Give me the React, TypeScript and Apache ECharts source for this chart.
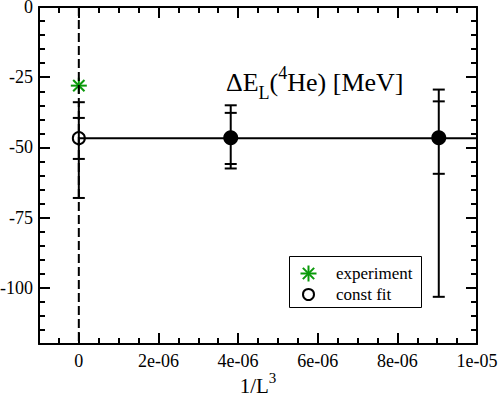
import React, { useEffect, useRef } from "react";
import * as echarts from "echarts";

// ---- data ----
const xMajorTicks = [0, 2e-6, 4e-6, 6e-6, 8e-6, 1e-5];
const xTickLabels = ["0", "2e-06", "4e-06", "6e-06", "8e-06", "1e-05"];
const yMajorTicks = [0, -25, -50, -75, -100];
const yTickLabels = ["0", "-25", "-50", "-75", "-100"];

// lattice results (filled circles) with inner / outer error bars
const latticeX = [3.815e-6, 9.04e-6];
const latticeY = [-46.6, -46.6];
const latticeInnerLo = [-55.9, -59.4];
const latticeInnerHi = [-37.7, -33.6];
const latticeOuterLo = [-57.5, -103.2];
const latticeOuterHi = [-35.0, -29.4];

// constant fit extrapolated to 1/L^3 = 0 (open circle)
const fitX = [0];
const fitY = [-46.7];
const fitInnerLo = [-54.1];
const fitInnerHi = [-39.5];
const fitOuterLo = [-68.0];
const fitOuterHi = [-33.9];
const fitLineX = [0, 1e-5];

// experiment (green asterisk)
const experimentX = [0];
const experimentY = [-28.0];

// dashed line at 1/L^3 = 0
const zeroLineY = [0, -120];

const FONT = '"Liberation Serif", "Times New Roman", serif';
const GREEN = "#0a9a0a";

export default function App() {
  const ref = useRef<HTMLDivElement>(null);

  useEffect(() => {
    document.body.style.margin = "0";
    if (!ref.current) return;
    const chart = echarts.init(ref.current, null, { renderer: "svg" });

    const gridBox = { left: 39, top: 7, right: 21, bottom: 51, outerBoundsMode: "none" } as any;

    const labelFor = (ticks: number[], labels: string[]) => (v: number) => {
      const i = ticks.findIndex((t) => Math.abs(t - v) < 1e-12 || Math.abs(t - v) < Math.abs(t) * 1e-6);
      return i >= 0 ? labels[i] : "";
    };

    const majorX = (pos: string, withLabels: boolean, gridIndex: number) => ({
      type: "value",
      gridIndex,
      position: pos,
      min: -1e-6,
      max: 1e-5,
      axisLine: { show: true, onZero: false, lineStyle: { color: "#000", width: 2 } },
      axisTick: { show: true, inside: true, length: 11, customValues: xMajorTicks, lineStyle: { color: "#000", width: 2 } },
      axisLabel: withLabels
        ? {
            show: true,
            customValues: xMajorTicks,
            formatter: labelFor(xMajorTicks, xTickLabels),
            color: "#000",
            fontFamily: FONT,
            fontSize: 18,
            margin: 8,
          }
        : { show: false },
      splitLine: { show: false },
    });
    const minorX = (pos: string, gridIndex: number) => ({
      type: "value",
      gridIndex,
      position: pos,
      min: -1e-6,
      max: 1e-5,
      interval: 5e-7,
      axisLine: { show: false, onZero: false },
      axisTick: { show: true, inside: true, length: 6, lineStyle: { color: "#000", width: 2 } },
      axisLabel: { show: false },
      splitLine: { show: false },
    });
    const majorY = (pos: string, withLabels: boolean, gridIndex: number) => ({
      type: "value",
      gridIndex,
      position: pos,
      min: -120,
      max: 0,
      axisLine: { show: true, onZero: false, lineStyle: { color: "#000", width: 2 } },
      axisTick: { show: true, inside: true, length: 11, customValues: yMajorTicks, lineStyle: { color: "#000", width: 2 } },
      axisLabel: withLabels
        ? {
            show: true,
            customValues: yMajorTicks,
            formatter: labelFor(yMajorTicks, yTickLabels),
            color: "#000",
            fontFamily: FONT,
            fontSize: 18,
            lineHeight: 13,
            margin: 6,
          }
        : { show: false },
      splitLine: { show: false },
    });
    const minorY = (pos: string, gridIndex: number) => ({
      type: "value",
      gridIndex,
      position: pos,
      min: -120,
      max: 0,
      interval: 5,
      axisLine: { show: false, onZero: false },
      axisTick: { show: true, inside: true, length: 6, lineStyle: { color: "#000", width: 2 } },
      axisLabel: { show: false },
      splitLine: { show: false },
    });

    const xBottom: any = majorX("bottom", true, 0);
    xBottom.name = "{m|1/L}{sup|3}";
    xBottom.nameLocation = "middle";
    xBottom.nameGap = 33;
    xBottom.nameMoveOverlap = false;
    xBottom.nameTextStyle = {
      color: "#000",
      rich: {
        m: { fontSize: 21, fontFamily: FONT, color: "#000", lineHeight: 18 },
        sup: { fontSize: 15, fontFamily: FONT, color: "#000", lineHeight: 18, padding: [0, 0, 16, 0] },
      },
    };

    const errorRows = [
      ...latticeX.map((x, i) => [x, latticeY[i], latticeInnerLo[i], latticeInnerHi[i], latticeOuterLo[i], latticeOuterHi[i]]),
      ...fitX.map((x, i) => [x, fitY[i], fitInnerLo[i], fitInnerHi[i], fitOuterLo[i], fitOuterHi[i]]),
    ];

    const errorRender = (params: any, api: any) => {
      const x = api.value(0);
      const vals = [2, 3, 4, 5].map((k) => api.value(k));
      const lo = Math.min(...vals);
      const hi = Math.max(...vals);
      const pLo = api.coord([x, lo]);
      const pHi = api.coord([x, hi]);
      const style = { stroke: "#000", lineWidth: 2 };
      const children: any[] = [
        { type: "line", shape: { x1: pLo[0], y1: pLo[1], x2: pHi[0], y2: pHi[1] }, style },
      ];
      vals.forEach((v) => {
        const p = api.coord([x, v]);
        children.push({ type: "line", shape: { x1: p[0] - 6, y1: p[1], x2: p[0] + 6, y2: p[1] }, style });
      });
      return { type: "group", children };
    };

    const starLines = (cx: number, cy: number, r: number) => {
      const d = r * Math.SQRT1_2;
      const style = { stroke: GREEN, lineWidth: 2 };
      return [
        { type: "line", shape: { x1: cx - r, y1: cy, x2: cx + r, y2: cy }, style },
        { type: "line", shape: { x1: cx, y1: cy - r, x2: cx, y2: cy + r }, style },
        { type: "line", shape: { x1: cx - d, y1: cy - d, x2: cx + d, y2: cy + d }, style },
        { type: "line", shape: { x1: cx - d, y1: cy + d, x2: cx + d, y2: cy - d }, style },
      ];
    };

    const starRender = (params: any, api: any) => {
      const p = api.coord([api.value(0), api.value(1)]);
      return { type: "group", children: starLines(p[0], p[1], 8) };
    };

    const option: any = {
      animation: false,
      backgroundColor: "#fff",
      textStyle: { fontFamily: FONT, color: "#000" },
      grid: [gridBox, { ...gridBox }],
      xAxis: [xBottom, majorX("top", false, 0), minorX("bottom", 1), minorX("top", 1)],
      yAxis: [majorY("left", true, 0), majorY("right", false, 0), minorY("left", 1), minorY("right", 1)],
      series: [
        {
          type: "line",
          xAxisIndex: 0,
          yAxisIndex: 0,
          data: zeroLineY.map((y) => [0, y]),
          symbol: "none",
          lineStyle: { color: "#000", width: 2, type: [9, 4] },
          silent: true,
        },
        {
          type: "line",
          xAxisIndex: 0,
          yAxisIndex: 0,
          data: fitLineX.map((x) => [x, fitY[0]]),
          symbol: "none",
          lineStyle: { color: "#000", width: 2 },
          silent: true,
        },
        {
          type: "custom",
          xAxisIndex: 0,
          yAxisIndex: 0,
          data: errorRows,
          encode: { x: 0, y: [1, 2, 3, 4, 5] },
          renderItem: errorRender,
          clip: false,
        },
        {
          type: "scatter",
          name: "lattice",
          xAxisIndex: 0,
          yAxisIndex: 0,
          data: latticeX.map((x, i) => [x, latticeY[i]]),
          symbol: "circle",
          symbolSize: 15,
          itemStyle: { color: "#000", opacity: 1 },
        },
        {
          type: "scatter",
          name: "const fit",
          xAxisIndex: 0,
          yAxisIndex: 0,
          data: fitX.map((x, i) => [x, fitY[i]]),
          symbol: "circle",
          symbolSize: 12,
          itemStyle: { color: "rgba(0,0,0,0)", borderColor: "#000", borderWidth: 2, opacity: 1 },
        },
        {
          type: "custom",
          name: "experiment",
          xAxisIndex: 0,
          yAxisIndex: 0,
          data: experimentX.map((x, i) => [x, experimentY[i]]),
          encode: { x: 0, y: 1 },
          renderItem: starRender,
          clip: false,
        },
      ],
      graphic: [
        {
          type: "text",
          x: 226,
          y: 66,
          style: {
            text: "{m|ΔE}{sub|L}{m|(}{sup|4}{m|He) [MeV]}",
            align: "left",
            verticalAlign: "top",
            fill: "#000",
            font: `26px ${FONT}`,
            rich: {
              m: { font: `26px ${FONT}`, lineHeight: 32, fill: "#000" },
              sub: { font: `18px ${FONT}`, lineHeight: 32, padding: [22, 0, 0, 0], fill: "#000" },
              sup: { font: `18px ${FONT}`, lineHeight: 32, padding: [0, 0, 19, 0], fill: "#000" },
            },
          },
        },
        {
          type: "group",
          children: [
            {
              type: "rect",
              shape: { x: 289.5, y: 256.5, width: 132, height: 51 },
              style: { fill: "#fff", stroke: "#000", lineWidth: 1 },
            },
            ...starLines(308.5, 273.5, 8),
            {
              type: "circle",
              shape: { cx: 308.5, cy: 294.5, r: 5.5 },
              style: { fill: "none", stroke: "#000", lineWidth: 2 },
            },
            {
              type: "text",
              x: 336,
              y: 273.5,
              style: { text: "experiment", font: `17px ${FONT}`, fill: "#000", align: "left", verticalAlign: "middle" },
            },
            {
              type: "text",
              x: 336,
              y: 294.5,
              style: { text: "const fit", font: `17px ${FONT}`, fill: "#000", align: "left", verticalAlign: "middle" },
            },
          ],
        },
      ],
    };

    chart.setOption(option);
    return () => chart.dispose();
  }, []);

  return <div ref={ref} style={{ width: 498, height: 395 }} />;
}
